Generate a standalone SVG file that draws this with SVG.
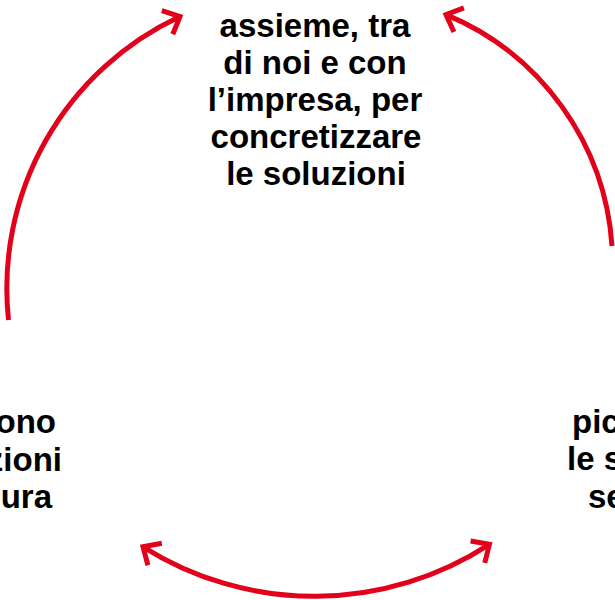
<svg xmlns="http://www.w3.org/2000/svg" width="615" height="600" viewBox="0 0 615 600">
  <style>
    .t { font-family: "Liberation Sans", Arial, sans-serif; font-weight: bold; font-size: 33px; fill: #000; }
    .c { text-anchor: middle; }
    .e { text-anchor: end; }
    .s { text-anchor: start; }
    .arc { fill: none; stroke: #e2001a; stroke-width: 5; }
  </style>
  <defs>
    <marker id="ah" markerUnits="userSpaceOnUse" viewBox="-20 -20 30 40" refX="0" refY="0" markerWidth="30" markerHeight="40" orient="auto-start-reverse" overflow="visible">
      <path d="M-14,-13 L0,0 L-14,13" fill="none" stroke="#e2001a" stroke-width="5" stroke-linejoin="miter"/>
    </marker>
  </defs>
  <rect width="615" height="600" fill="#fff"/>
  <g id="connectors">
    <path class="arc" d="M8.5,320 A300,300 0 0 1 180,16.5" marker-end="url(#ah)"/>
    <path class="arc" d="M612,246 A270,270 0 0 0 446,14.6" marker-end="url(#ah)"/>
    <path class="arc" d="M143,546.8 A321,321 0 0 0 489.4,544.3" marker-start="url(#ah)" marker-end="url(#ah)"/>
  </g>
  <g id="node-top">
    <text class="t c" x="315" y="37">assieme, tra</text>
    <text class="t c" x="315" y="74">di noi e con</text>
    <text class="t c" x="315" y="111">l’impresa, per</text>
    <text class="t c" x="316" y="148">concretizzare</text>
    <text class="t c" x="316" y="185">le soluzioni</text>
  </g>
  <g id="node-left">
    <text class="t e" x="56" y="433">ono</text>
    <text class="t e" x="62" y="471">zioni</text>
    <text class="t e" x="52" y="508">ura</text>
  </g>
  <g id="node-right">
    <text class="t s" x="572" y="433">pic</text>
    <text class="t s" x="567" y="470">le s</text>
    <text class="t s" x="588" y="508">se</text>
  </g>
</svg>
